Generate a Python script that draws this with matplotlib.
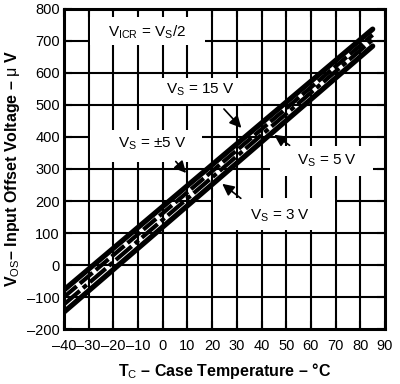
import matplotlib
matplotlib.use("Agg")
import matplotlib.pyplot as plt
from matplotlib.patches import Rectangle

plt.rcParams['font.family'] = ['Liberation Sans', 'DejaVu Sans']
plt.rcParams['mathtext.fontset'] = 'custom'
plt.rcParams['mathtext.rm'] = 'Liberation Sans'
plt.rcParams['mathtext.it'] = 'Liberation Sans'
plt.rcParams['mathtext.bf'] = 'Liberation Sans:bold'

# ---- data ----
temps = [-40, 85]
vos_15v = [-78, 737]
vos_pm5v = [-100, 719]
vos_5v = [-123, 704]
vos_3v = [-147, 684]

x_ticks = [-40, -30, -20, -10, 0, 10, 20, 30, 40, 50, 60, 70, 80, 90]
y_ticks = [-200, -100, 0, 100, 200, 300, 400, 500, 600, 700, 800]

fig = plt.figure(figsize=(4.0, 3.84), dpi=100)
ax = fig.add_axes([0.16, 0.1432, 0.8025, 0.8334])
ax.set_xlim(-40, 90)
ax.set_ylim(-200, 800)
ax.set_xticks(x_ticks)
ax.set_yticks(y_ticks)
ax.set_xticklabels([f"{t:d}".replace('-', '\u2013') for t in x_ticks], fontsize=10.5)
ax.set_yticklabels([f"{t:d}".replace('-', '\u2013') for t in y_ticks], fontsize=10.5)
ax.tick_params(direction='in', length=6, width=1.5, top=True, right=True)
ax.tick_params(axis='x', pad=7)
ax.tick_params(axis='y', pad=3)
for s in ax.spines.values():
    s.set_linewidth(2.2)
ax.set_axisbelow(False)

# grid lines drawn manually so label boxes can mask them while ticks stay visible
for xv in x_ticks[1:-1]:
    ax.axvline(xv, color='black', lw=1.5, zorder=1)
for yv in y_ticks[1:-1]:
    ax.axhline(yv, color='black', lw=1.5, zorder=1)

# white label boxes (data coords: x0, y0, width, height)
boxes = [(-29.3, 686, 46.4, 104), (-9.5, 503, 42.0, 82), (-29.3, 322, 45.2, 100),
         (43.4, 278, 41.8, 94), (20.3, 109, 49.5, 100)]
for bx, by, bw, bh in boxes:
    ax.add_patch(Rectangle((bx, by), bw, bh, facecolor='white', edgecolor='none', zorder=2))

ax.plot(temps, vos_15v, color='black', lw=3.8, solid_capstyle='round', zorder=3)
ax.plot(temps, vos_pm5v, color='black', lw=3.0, ls=(0, (4, 1.0)), zorder=3)
ax.plot(temps, vos_5v, color='black', lw=3.0, ls=(0, (5, 1, 1.2, 1)), zorder=3)
ax.plot(temps, vos_3v, color='black', lw=3.8, solid_capstyle='round', zorder=3)

tk = dict(fontsize=11, ha='center', va='center', zorder=5)
ax.text(-6.5, 728, r'V$_{\mathrm{ICR}}$ = V$_{\mathrm{S}}$/2', **tk)
ax.text(15.0, 547, r'V$_{\mathrm{S}}$ = 15 V', **tk)
ax.text(-4.4, 378, r'V$_{\mathrm{S}}$ = $\pm$5 V', **tk)
ax.text(66.5, 325, r'V$_{\mathrm{S}}$ = 5 V', **tk)
ax.text(47.5, 153, r'V$_{\mathrm{S}}$ = 3 V', **tk)

ap = dict(arrowstyle='-|>,head_length=0.7,head_width=0.35', color='black', lw=1.2)
ax.annotate('', xy=(32.6, 422), xytext=(24, 494), arrowprops=ap, zorder=4)
ax.annotate('', xy=(10.2, 281), xytext=(4.5, 330), arrowprops=ap, zorder=4)
ax.annotate('', xy=(44.2, 412), xytext=(52.3, 369), arrowprops=ap, zorder=4)
ax.annotate('', xy=(23.2, 259), xytext=(32.5, 203), arrowprops=ap, zorder=4)

ax.set_xlabel(r'T$_{\mathrm{C}}$ – Case Temperature – °C', fontsize=11.5, fontweight='bold', labelpad=6)
ax.set_ylabel(r'V$_{\mathrm{OS}}$– Input Offset Voltage – $\mu$ V', fontsize=11.5, fontweight='bold', labelpad=4)

fig.savefig('out.png', dpi=100)
